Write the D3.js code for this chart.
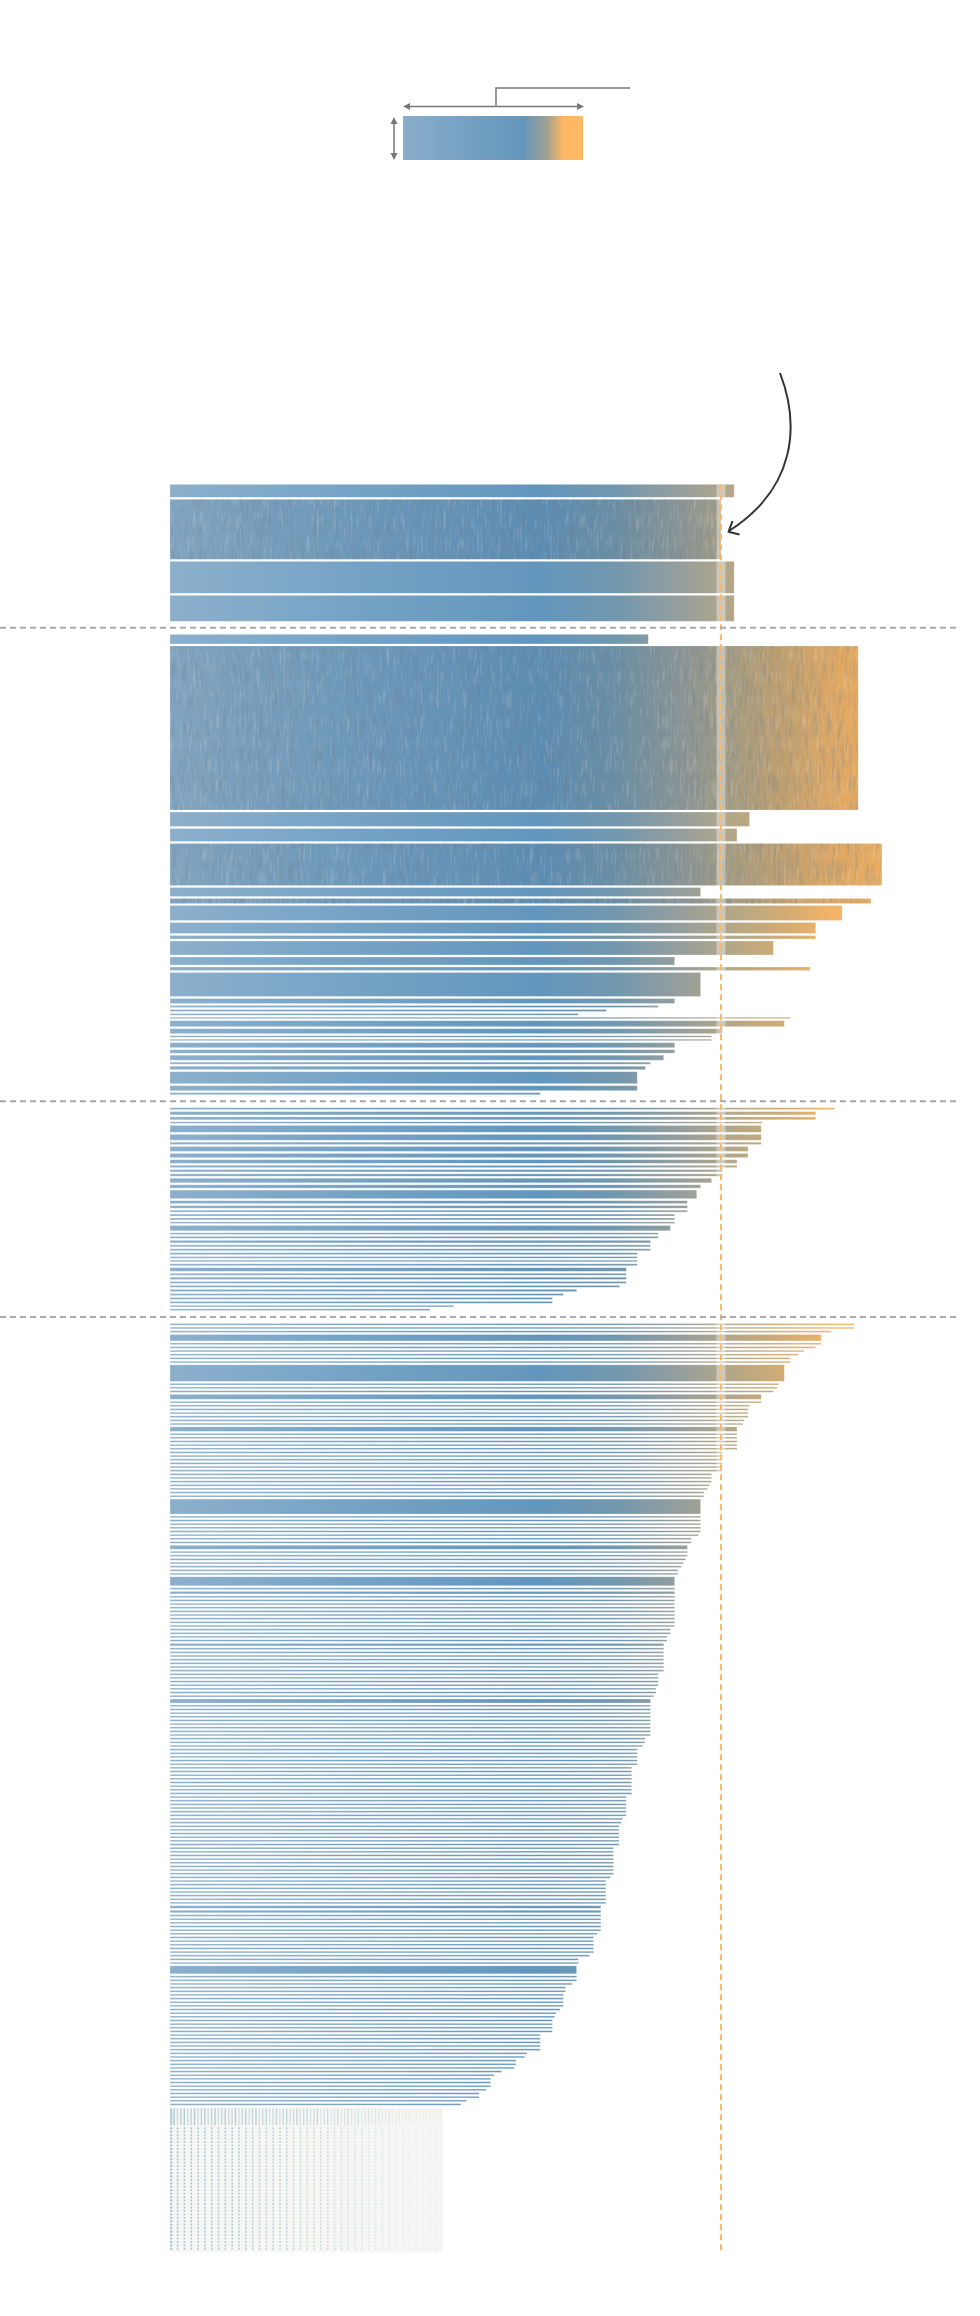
<!DOCTYPE html>
<html><head><meta charset="utf-8">
<script src="https://cdn.jsdelivr.net/npm/d3@7"></script>
<style>body{margin:0;background:#fff}svg{display:block}</style>
</head><body>
<div id="chart"></div>
<script>
// ---- DATA: share = value as % of the threshold (100), pop = bar thickness value ----
const g1Share = [102.4, 100, 102.4, 102.4];
const g1Pop   = [13, 60, 32, 26];
const g1Tex   = [0, 1, 0, 0];

const g2Share = [86.8,124.9,105.2,102.9,129.2,96.3,127.2,122.0,117.2,117.2,
                 109.5,91.6,116.2,96.3,91.6,88.6,79.2,74.1,112.6,111.5,
                 100.3,98.3,98.3,91.6,91.6,89.6,87.2,86.3,84.8,84.8,67.2];
const g2Pop   = [9.7,164,14.5,13,42,9,5,15,11,3.5,
                 14,8,3.5,24,5,2,2,1.7,1.5,6,
                 5,1.5,1.5,5,3.5,5,2,3.5,12,5,2];
const g2Tex   = [0,1,0,0,1,0,1,0,0,0, 0,0,0,0,0,0,0,0,0,0, 0,0,0,0,0,0,0,0,0,0,0];

const g3Share = [120.6,117.2,117.2,107.5,107.3,107.3,107.3,104.9,104.9,102.9,
                 102.9,100.3,100.3,98.3,96.3,95.6,93.9,93.9,93.9,91.6,
                 91.6,91.6,90.8,88.6,88.6,87.2,87.2,87.2,84.8,84.8,
                 84.8,84.8,82.8,82.8,82.8,82.8,81.6,73.8,71.4,69.4,
                 69.4,51.5,47.2];
const g3Pop   = [1.9,3.3,2.9,1.6,6.9,5.9,2.3,4.9,4.3,3.6,
                 2.3,2.3,2.3,4.6,3.3,8.6,2.9,2.6,1.9,1.9,
                 1.9,1.6,5.3,1.6,1.9,2.6,1.9,1.9,1.9,1.6,
                 1.6,1.9,3.6,1.9,2.3,1.9,1.9,2.3,1.9,1.9,
                 1.9,1.6,1.6];

const g4Share = [124.2,124.2,120.0,118.2,118.2,117.2,115.0,114.0,112.6,112.6,
                 111.5,110.5,110.2,109.5,107.3,107.3,105.2,104.9,104.9,104.9,
                 104.2,104.0,102.9,102.9,102.9,102.9,102.9,102.9,100.3,100.3,
                 100.3,100.3,100.3,100.3,98.3,98.3,98.3,97.9,97.5,96.9,
                 96.9,96.3,96.3,96.3,96.3,96.3,96.3,95.9,94.6,94.6,
                 93.9,93.9,93.9,93.6,93.2,92.8,92.2,92.2,91.6,91.6,
                 91.6,91.6,91.6,91.6,91.6,91.6,91.6,91.6,91.6,91.6,
                 90.8,90.8,90.2,90.2,89.6,89.6,89.6,89.6,89.6,89.6,
                 89.6,89.6,88.6,88.6,88.6,88.6,88.2,88.2,87.8,87.2,
                 87.2,87.2,87.2,87.2,87.2,87.2,87.2,87.2,87.2,86.2,
                 86.2,85.8,84.8,84.8,84.8,84.8,84.8,83.8,83.8,83.8,
                 83.8,83.8,83.8,83.8,83.8,82.8,82.8,82.8,82.8,82.8,
                 82.8,82.2,81.9,81.5,81.5,81.5,81.5,81.5,81.5,80.5,
                 80.5,80.5,80.5,80.5,80.5,80.5,80.5,79.9,79.1,79.1,
                 79.1,79.1,79.1,79.1,79.1,78.2,78.2,78.2,78.2,78.2,
                 78.2,78.2,77.5,76.9,76.9,76.9,76.9,76.9,76.1,74.1,
                 74.1,73.8,73.8,73.8,73.0,71.8,71.8,71.4,71.4,71.4,
                 71.4,70.8,70.1,69.8,69.4,69.4,69.4,69.4,67.2,67.2,
                 67.2,67.2,67.2,64.8,64.4,62.8,62.8,62.5,60.2,58.8,
                 58.2,58.2,58.2,57.4,56.1,56.1,53.8,52.8];
const g4Pop   = [1.65,1.65,1.65,6.5,1.65,1.65,1.65,1.65,1.65,1.65,
                 16.5,1.65,1.65,1.65,5,1.65,1.65,1.65,1.65,1.65,
                 1.65,1.65,4.5,1.65,1.65,1.65,1.65,1.65,1.65,1.65,
                 1.65,1.65,1.65,1.65,1.65,1.65,1.65,1.65,1.65,1.65,
                 1.65,15,1.65,1.65,1.65,1.65,1.65,1.65,1.65,1.65,
                 4,1.65,1.65,1.65,1.65,1.65,1.65,1.65,9,1.65,
                 2.5,1.65,1.65,1.65,1.65,1.65,1.65,1.65,1.65,1.65,
                 1.65,1.65,1.65,1.65,2.5,1.65,1.65,1.65,1.65,1.65,
                 1.65,1.65,1.65,1.65,1.65,1.65,1.65,1.65,1.65,4,
                 1.65,1.65,1.65,1.65,1.65,1.65,1.65,1.65,1.65,1.65,
                 1.65,1.65,1.65,1.65,1.65,1.65,1.65,1.65,1.65,1.65,
                 1.65,1.65,1.65,1.65,1.65,1.65,1.65,1.65,1.65,1.65,
                 1.65,1.65,1.65,1.65,1.65,1.65,1.65,1.65,1.65,1.65,
                 1.65,1.65,1.65,1.65,1.65,1.65,1.65,1.65,1.65,1.65,
                 1.65,1.65,1.65,1.65,1.65,2.5,2.5,1.65,1.65,1.65,
                 1.65,1.65,1.65,1.65,1.65,1.65,1.65,1.65,1.65,1.65,
                 1.65,8,1.65,1.65,1.65,1.65,1.65,1.65,1.65,1.65,
                 1.65,1.65,1.65,1.65,1.65,1.65,1.65,1.65,1.65,1.65,
                 1.65,1.65,1.65,1.65,1.65,1.65,1.65,1.65,1.65,1.65,
                 1.65,1.65,1.65,1.65,1.65,1.65,1.65,1.65];

const threshold = 100;
// tiny entries shown as a grid below the bars
const tinyTickCount = 80, tinyCols = 40, tinyRows = 36;

// ---- CHART ----
const W = 980, H = 2316;
const svg = d3.select('#chart').append('svg').attr('width', W).attr('height', H);
const defs = svg.append('defs');

const x = d3.scaleLinear().domain([0, 100]).range([170, 721]);
const hs = d3.scaleLinear().domain([0, 10]).range([0, 10]);

// gradients
const bgrad = defs.append('linearGradient').attr('id', 'barGrad')
  .attr('gradientUnits', 'userSpaceOnUse')
  .attr('x1', x(0)).attr('x2', x(129.2)).attr('y1', 0).attr('y2', 0);
[[0,'#8cb0cc'],[0.25,'#76a3c5'],[0.52,'#6396bd'],[0.63,'#7398ae'],[0.72,'#979f9c'],
 [0.78,'#b0a68a'],[0.86,'#d1ab73'],[0.94,'#f6b566'],[1,'#fdb863']]
 .forEach(([o,c]) => bgrad.append('stop').attr('offset', o).attr('stop-color', c));

const lgrad = defs.append('linearGradient').attr('id', 'legGrad');
[[0,'#8aaecb'],[0.3,'#78a3c4'],[0.67,'#6496bd'],[0.8,'#a0a08f'],[0.89,'#fdb863'],[1,'#fdb863']]
 .forEach(([o,c]) => lgrad.append('stop').attr('offset', o).attr('stop-color', c));

// ripple texture (light streaks)
const f = defs.append('filter').attr('id', 'ripple')
  .attr('x', 0).attr('y', 0).attr('width', 1).attr('height', 1);
f.append('feTurbulence').attr('type', 'turbulence').attr('baseFrequency', '0.3 0.045')
  .attr('numOctaves', 2).attr('seed', 4).attr('result', 't');
f.append('feColorMatrix').attr('in', 't').attr('type', 'matrix')
  .attr('values', '0 0 0 0 1  0 0 0 0 1  0 0 0 0 1  1.6 0 0 0 -0.4').attr('result', 'w');
f.append('feComposite').attr('in', 'w').attr('in2', 'SourceGraphic').attr('operator', 'in');

// ripple texture (dark streaks)
const f2 = defs.append('filter').attr('id', 'rippleDark')
  .attr('x', 0).attr('y', 0).attr('width', 1).attr('height', 1);
f2.append('feTurbulence').attr('type', 'turbulence').attr('baseFrequency', '0.22 0.035')
  .attr('numOctaves', 2).attr('seed', 9).attr('result', 't');
f2.append('feColorMatrix').attr('in', 't').attr('type', 'matrix')
  .attr('values', '0 0 0 0 0.15  0 0 0 0 0.22  0 0 0 0 0.3  0 1.5 0 0 -0.3').attr('result', 'w');
f2.append('feComposite').attr('in', 'w').attr('in2', 'SourceGraphic').attr('operator', 'in');

// layout
const groups = [
  {share: g1Share, pop: g1Pop, tex: g1Tex},
  {share: g2Share, pop: g2Pop, tex: g2Tex},
  {share: g3Share, pop: g3Pop},
  {share: g4Share, pop: g4Pop}
];
const barGap = 2, groupGap = 13, barTop = 484.3;
let cy = barTop;
const bars = [], dividers = [];
groups.forEach((g, gi) => {
  if (gi > 0) { dividers.push(cy - barGap + groupGap / 2); cy += groupGap - barGap; }
  g.share.forEach((s, i) => {
    const hh = hs(g.pop[i]);
    bars.push({s, y: cy, h: hh, tex: g.tex ? g.tex[i] : 0});
    cy += hh + barGap;
  });
});
const barsEnd = cy - barGap;

// bars
const gb = svg.append('g');
gb.selectAll('rect.bar').data(bars).join('rect').attr('class', 'bar')
  .attr('x', x(0)).attr('y', d => d.y)
  .attr('width', d => x(d.s) - x(0)).attr('height', d => d.h)
  .attr('fill', 'url(#barGrad)')
  .attr('stroke', '#fff').attr('stroke-opacity', 0.45).attr('stroke-width', 0.6);

const texBars = bars.filter(d => d.tex);
const texRect = cls => gb.selectAll('rect.' + cls).data(texBars).join('rect').attr('class', cls)
  .attr('x', x(0)).attr('y', d => d.y).attr('width', d => x(d.s) - x(0)).attr('height', d => d.h);
texRect('texshade').attr('fill', '#2a3c4a').attr('opacity', 0.1);
texRect('texd').attr('fill', '#000').attr('opacity', 0.45).attr('filter', 'url(#rippleDark)');
texRect('tex').attr('fill', '#fff').attr('opacity', 0.22).attr('filter', 'url(#ripple)');

// threshold highlight band
svg.append('rect').attr('x', x(threshold) - 4.5).attr('width', 9)
  .attr('y', barTop).attr('height', barsEnd - barTop)
  .attr('fill', '#fff').attr('opacity', 0.38);

// tiny grid
const gridTop = barsEnd + 3, gridLeft = x(0), gridRight = 443;
const gg = svg.append('g');
gg.append('rect').attr('x', gridLeft).attr('y', gridTop).attr('width', gridRight - gridLeft)
  .attr('height', 144).attr('fill', '#f6f6f4');
const tickStep = (gridRight - gridLeft) / tinyTickCount;
const fade = d3.interpolateRgb('#a9c8d1', '#efefec');
gg.selectAll('rect.vt').data(d3.range(tinyTickCount)).join('rect').attr('class', 'vt')
  .attr('x', i => gridLeft + i * tickStep).attr('y', gridTop)
  .attr('width', i => i === 0 ? 2.2 : 1.3).attr('height', 17)
  .attr('fill', i => fade(Math.min(1, Math.pow(i / tinyTickCount, 1.4) * 1.15)))
  .attr('opacity', i => i % 3 === 1 ? 1 : (i % 3 === 2 ? 0.6 : 0.8));
const colStep = (gridRight - gridLeft) / tinyCols;
const rowStep = (144 - 20) / tinyRows;
const cells = [];
d3.range(tinyRows).forEach(r => d3.range(tinyCols).forEach(c => cells.push({r, c})));
gg.selectAll('rect.cell').data(cells).join('rect').attr('class', 'cell')
  .attr('x', d => gridLeft + d.c * colStep).attr('y', d => gridTop + 19 + d.r * rowStep)
  .attr('width', d => d.c === 0 ? 2.4 : 1.6).attr('height', 2)
  .attr('fill', d => fade(Math.min(1, Math.pow(d.c / tinyCols, 1.3) * 1.2)));

// threshold dashed line
svg.append('line').attr('x1', x(threshold)).attr('x2', x(threshold))
  .attr('y1', barTop).attr('y2', gridTop + 144)
  .attr('stroke', '#fdb863').attr('stroke-width', 2).attr('stroke-dasharray', '6,4');

// group dividers
svg.selectAll('line.div').data(dividers).join('line').attr('class', 'div')
  .attr('x1', 0).attr('x2', 958).attr('y1', d => d).attr('y2', d => d)
  .attr('stroke', '#aaaaaa').attr('stroke-width', 2).attr('stroke-dasharray', '6,4');

// legend
const lgG = svg.append('g');
lgG.append('rect').attr('x', 403).attr('y', 116).attr('width', 180).attr('height', 44)
  .attr('fill', 'url(#legGrad)');
const ac = '#777';
lgG.append('line').attr('x1', 408).attr('x2', 579).attr('y1', 106.5).attr('y2', 106.5)
  .attr('stroke', ac).attr('stroke-width', 1.5);
lgG.append('path').attr('d', 'M403,106.5 L410,103 L410,110 Z').attr('fill', ac);
lgG.append('path').attr('d', 'M584,106.5 L577,103 L577,110 Z').attr('fill', ac);
lgG.append('line').attr('x1', 394).attr('x2', 394).attr('y1', 122).attr('y2', 155)
  .attr('stroke', ac).attr('stroke-width', 1.5);
lgG.append('path').attr('d', 'M394,117 L390.5,124 L397.5,124 Z').attr('fill', ac);
lgG.append('path').attr('d', 'M394,160 L390.5,153 L397.5,153 Z').attr('fill', ac);
lgG.append('path').attr('d', 'M496,106 V88 H630').attr('fill', 'none')
  .attr('stroke', ac).attr('stroke-width', 1.5);

// curved annotation arrow
svg.append('path').attr('d', 'M780,373 C800,425 796,488 729,531')
  .attr('fill', 'none').attr('stroke', '#333').attr('stroke-width', 2);
svg.append('path').attr('d', 'M732.5,521 L728.5,531.8 L739.5,534.5')
  .attr('fill', 'none').attr('stroke', '#333').attr('stroke-width', 2).attr('stroke-linejoin', 'round');
</script>
</body></html>
